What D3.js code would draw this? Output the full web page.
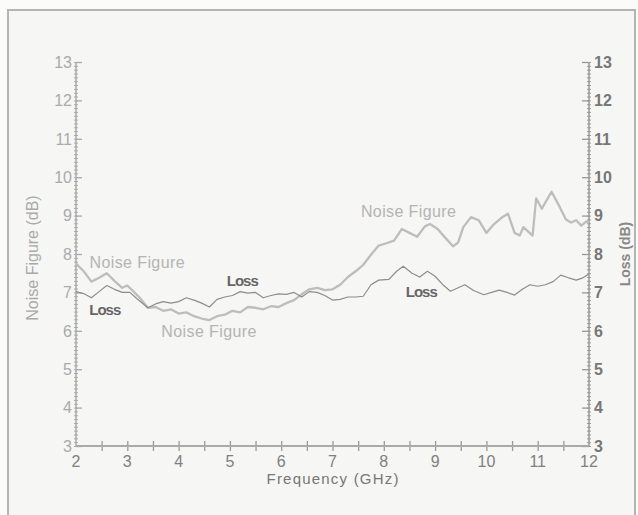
<!DOCTYPE html>
<html>
<head>
<meta charset="utf-8">
<script src="https://cdn.jsdelivr.net/npm/d3@7"></script>
<style>
  body { margin: 0; background: #fbfbfa; }
  svg { display: block; font-family: "Liberation Sans", Arial, sans-serif; }
</style>
</head>
<body>
<div class="chart"></div>
<script>
// frequency (GHz) / noise figure (dB)
var nfFreq = [2.0, 2.15, 2.3, 2.45, 2.6, 2.75, 2.9, 3.0, 3.1, 3.25, 3.4, 3.55, 3.7, 3.85, 4.0, 4.15, 4.3, 4.45, 4.6, 4.75,
  4.9, 5.05, 5.2, 5.35, 5.5, 5.65, 5.8, 5.95, 6.1, 6.25, 6.4, 6.55, 6.7, 6.85, 7.0, 7.15, 7.3, 7.45, 7.6, 7.75,
  7.9, 8.05, 8.2, 8.35, 8.5, 8.65, 8.8, 8.9, 9.05, 9.2, 9.35, 9.45, 9.55, 9.7, 9.85, 10.0, 10.15, 10.3, 10.42, 10.55,
  10.65, 10.72, 10.8, 10.9, 10.97, 11.08, 11.27, 11.4, 11.55, 11.65, 11.75, 11.85, 11.95, 12.0]
var noiseFigure = [7.75, 7.55, 7.28, 7.38, 7.5, 7.3, 7.12, 7.18, 7.05, 6.85, 6.6, 6.62, 6.52, 6.56, 6.45, 6.48, 6.38, 6.32, 6.28, 6.38,
  6.42, 6.52, 6.48, 6.62, 6.6, 6.56, 6.64, 6.62, 6.72, 6.8, 6.95, 7.08, 7.12, 7.06, 7.08, 7.2, 7.4, 7.55, 7.72, 7.98,
  8.22, 8.28, 8.35, 8.65, 8.55, 8.45, 8.72, 8.78, 8.65, 8.42, 8.2, 8.3, 8.7, 8.96, 8.88, 8.55, 8.78, 8.95, 9.05, 8.55,
  8.48, 8.7, 8.6, 8.48, 9.45, 9.18, 9.62, 9.3, 8.9, 8.82, 8.88, 8.74, 8.85, 8.82]

// frequency (GHz) / loss (dB)
var lossFreq = [2.0, 2.15, 2.3, 2.45, 2.6, 2.75, 2.9, 3.05, 3.2, 3.4, 3.55, 3.7, 3.85, 4.0, 4.15, 4.3, 4.45, 4.6, 4.75, 4.9,
  5.05, 5.2, 5.35, 5.5, 5.65, 5.8, 5.95, 6.1, 6.25, 6.4, 6.55, 6.7, 6.85, 7.0, 7.15, 7.3, 7.45, 7.6, 7.75, 7.9,
  8.1, 8.25, 8.38, 8.55, 8.7, 8.85, 9.0, 9.15, 9.3, 9.45, 9.58, 9.75, 9.95, 10.1, 10.25, 10.4, 10.55, 10.7, 10.85, 11.0,
  11.15, 11.3, 11.45, 11.6, 11.75, 11.88, 12.0]
var loss = [7.02, 6.97, 6.86, 7.02, 7.18, 7.08, 7.0, 7.0, 6.82, 6.6, 6.7, 6.76, 6.72, 6.76, 6.86, 6.8, 6.72, 6.62, 6.82, 6.88,
  6.92, 7.02, 6.98, 7.0, 6.86, 6.92, 6.96, 6.95, 7.0, 6.88, 7.02, 7.0, 6.92, 6.8, 6.82, 6.88, 6.88, 6.9, 7.2, 7.32,
  7.34, 7.55, 7.68, 7.5, 7.4, 7.55, 7.42, 7.2, 7.03, 7.12, 7.2, 7.05, 6.94, 7.0, 7.06, 7.0, 6.93, 7.08, 7.2, 7.16,
  7.2, 7.28, 7.45, 7.38, 7.32, 7.38, 7.48]

var xTicks = [2, 3, 4, 5, 6, 7, 8, 9, 10, 11, 12]
var yTicks = [3, 4, 5, 6, 7, 8, 9, 10, 11, 12, 13]

// curve labels, anchored at (GHz, dB) of their centre
var labelText = ["Noise Figure", "Loss", "Noise Figure", "Loss", "Noise Figure", "Loss"]
var labelSeries = ["nf", "loss", "nf", "loss", "nf", "loss"]
var labelFreq = [3.19, 2.57, 4.59, 5.25, 8.48, 8.74]
var labelDb = [7.79, 6.56, 5.99, 7.31, 9.11, 7.03]

var W = 638, H = 515
var margin = { left: 76, right: 589, top: 62, bottom: 446 }

var svg = d3.select(".chart").append("svg")
    .attr("width", W)
    .attr("height", H)

// scanned page frame
svg.append("rect").attr("width", W).attr("height", H).attr("fill", "#fbfbfa")
svg.append("rect")
    .attr("x", 8).attr("y", 10).attr("width", 627).attr("height", 520)
    .attr("fill", "#f6f6f4")
    .attr("stroke", "#b4b4b2").attr("stroke-width", 2)

var x = d3.scaleLinear().domain([2, 12]).range([margin.left, margin.right])
var yL = d3.scaleLinear().domain([3, 13]).range([margin.bottom, margin.top])
var yR = d3.scaleLinear().domain([3, 13]).range([margin.bottom, margin.top])

// left axis
var gl = svg.append("g").attr("transform", "translate(" + margin.left + ",0)")
gl.call(d3.axisRight(yL).tickValues(d3.range(3, 13.01, 0.1)).tickSize(2).tickFormat(""))
gl.selectAll(".tick line").attr("x1", -2).attr("stroke", "#aaa")
gl.append("g").call(d3.axisRight(yL).tickValues(yTicks).tickSize(6).tickFormat(""))
    .selectAll(".tick line").attr("stroke", "#aaa").attr("stroke-width", 1.3)
gl.selectAll(".domain").remove()
gl.append("line").attr("y1", margin.top).attr("y2", margin.bottom).attr("stroke", "#aaa").attr("stroke-width", 1.5)
gl.selectAll(".ylab").data(yTicks).enter().append("text")
    .attr("class", "ylab")
    .attr("x", -4).attr("y", function(d) { return yL(d) })
    .attr("dy", "0.36em").attr("text-anchor", "end")
    .attr("font-size", 16).attr("fill", "#aaa")
    .text(function(d) { return d })

// right axis
var gr = svg.append("g").attr("transform", "translate(" + margin.right + ",0)")
gr.call(d3.axisLeft(yR).tickValues(d3.range(3, 13.01, 0.1)).tickSize(2).tickFormat(""))
gr.selectAll(".tick line").attr("x1", 2).attr("stroke", "#999")
gr.append("g").call(d3.axisLeft(yR).tickValues(yTicks).tickSize(7).tickFormat(""))
    .selectAll(".tick line").attr("stroke", "#999").attr("stroke-width", 1.3)
gr.selectAll(".domain").remove()
gr.append("line").attr("y1", margin.top).attr("y2", margin.bottom).attr("stroke", "#999").attr("stroke-width", 1.5)
gr.selectAll(".ylab").data(yTicks).enter().append("text")
    .attr("class", "ylab")
    .attr("x", 5).attr("y", function(d) { return yR(d) })
    .attr("dy", "0.36em").attr("text-anchor", "start")
    .attr("font-size", 16).attr("font-weight", "bold").attr("fill", "#777")
    .text(function(d) { return d })

// bottom axis
var gb = svg.append("g").attr("transform", "translate(0," + margin.bottom + ")")
gb.call(d3.axisBottom(x).tickValues(d3.range(2.5, 12, 0.5)).tickSize(5).tickFormat(""))
gb.selectAll(".tick line").attr("y1", -5).attr("stroke", "#999").attr("stroke-width", 1.3)
gb.selectAll(".domain").remove()
gb.append("line").attr("x1", margin.left).attr("x2", margin.right).attr("stroke", "#aaa").attr("stroke-width", 2.2)
gb.selectAll(".xlab").data(xTicks).enter().append("text")
    .attr("x", function(d) { return x(d) }).attr("y", 21)
    .attr("text-anchor", "middle")
    .attr("font-size", 16).attr("fill", "#808080")
    .text(function(d) { return d })

// axis titles
svg.append("text")
    .attr("x", x(7)).attr("y", 484)
    .attr("text-anchor", "middle")
    .attr("font-size", 15).attr("fill", "#777")
    .attr("textLength", 132)
    .text("Frequency (GHz)")

svg.append("text")
    .attr("transform", "translate(38," + 258 + ") rotate(-90)")
    .attr("text-anchor", "middle")
    .attr("font-size", 16).attr("fill", "#aaa")
    .text("Noise Figure (dB)")

svg.append("text")
    .attr("transform", "translate(630," + 254 + ") rotate(-90)")
    .attr("text-anchor", "middle")
    .attr("font-size", 14).attr("font-weight", "bold").attr("fill", "#888")
    .text("Loss (dB)")

// curves
var nfLine = d3.line()
    .x(function(d, i) { return x(nfFreq[i]) })
    .y(function(d) { return yL(d) })
var lossLine = d3.line()
    .x(function(d, i) { return x(lossFreq[i]) })
    .y(function(d) { return yR(d) })

svg.append("path")
    .datum(noiseFigure)
    .attr("d", nfLine)
    .attr("fill", "none").attr("stroke", "#bdbdbb")
    .attr("stroke-width", 2.3).attr("stroke-linejoin", "round")

svg.append("path")
    .datum(loss)
    .attr("d", lossLine)
    .attr("fill", "none").attr("stroke", "#8d8d8b")
    .attr("stroke-width", 1.2).attr("stroke-linejoin", "round")

// curve labels
svg.selectAll(".curve-label")
    .data(labelText).enter().append("text")
    .attr("class", "curve-label")
    .attr("x", function(d, i) { return x(labelFreq[i]) })
    .attr("y", function(d, i) { return yL(labelDb[i]) })
    .attr("dy", "0.36em")
    .attr("text-anchor", "middle")
    .attr("font-size", function(d, i) { return labelSeries[i] == "nf" ? 16 : 15 })
    .attr("font-weight", function(d, i) { return labelSeries[i] == "nf" ? "normal" : "bold" })
    .attr("fill", function(d, i) { return labelSeries[i] == "nf" ? "#b4b4b2" : "#666" })
    .attr("textLength", function(d, i) { return labelSeries[i] == "nf" ? 95 : 32 })
    .text(function(d) { return d })
</script>
</body>
</html>
